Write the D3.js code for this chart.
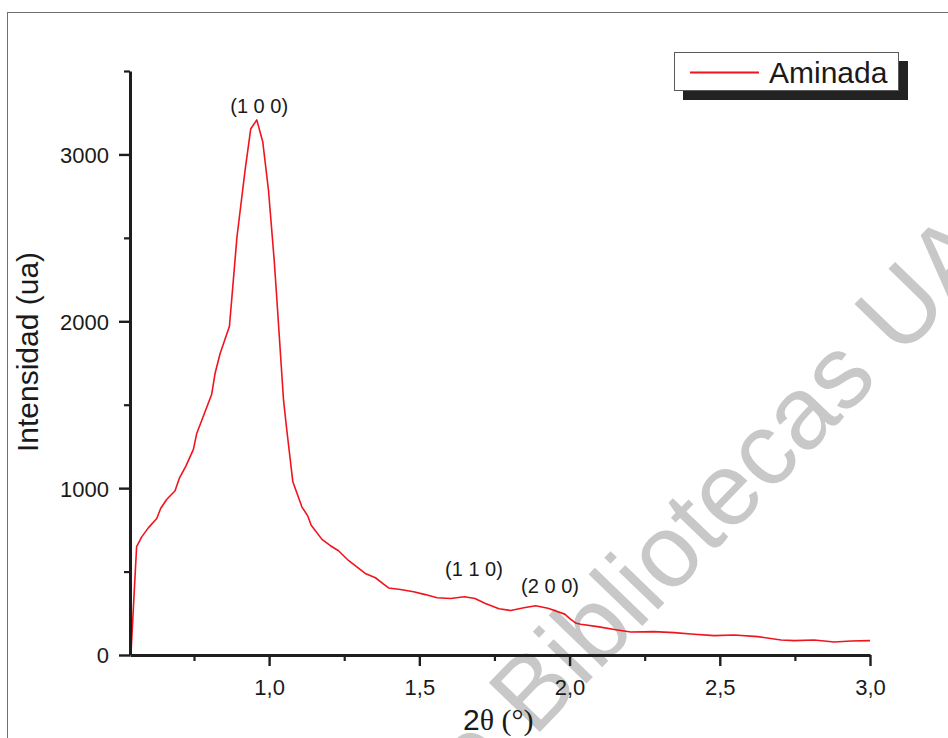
<!DOCTYPE html>
<html>
<head>
<meta charset="utf-8">
<script src="https://cdn.jsdelivr.net/npm/d3@7"></script>
<style>
  html, body { margin: 0; padding: 0; background: #fff; }
  svg { display: block; }
</style>
</head>
<body>
<svg id="chart" width="948" height="738"></svg>
<script>
// Diffractogram (low angle XRD) of the aminated sample
const twoTheta = [
  0.540, 0.559, 0.576, 0.598, 0.626, 0.639, 0.659, 0.687, 0.701, 0.723,
  0.748, 0.759, 0.776, 0.809, 0.820, 0.837, 0.868, 0.879, 0.893, 0.920,
  0.939, 0.959, 0.979, 0.998, 1.017, 1.026, 1.048, 1.059, 1.079, 1.109,
  1.129, 1.140, 1.176, 1.204, 1.231, 1.265, 1.320, 1.354, 1.381, 1.398,
  1.437, 1.481, 1.520, 1.559, 1.604, 1.650, 1.685, 1.720, 1.765, 1.804,
  1.848, 1.887, 1.928, 1.984, 2.003, 2.020, 2.037, 2.093, 2.159, 2.204,
  2.281, 2.348, 2.404, 2.481, 2.548, 2.626, 2.704, 2.748, 2.814, 2.881,
  2.937, 3.000
];
const intensity = [
  0, 649, 708, 762, 818, 878, 932, 984, 1058, 1132,
  1232, 1327, 1407, 1563, 1687, 1807, 1970, 2205, 2505, 2904,
  3154, 3207, 3074, 2784, 2365, 2126, 1527, 1347, 1038, 888,
  832, 778, 693, 655, 625, 565, 489, 463, 425, 402,
  393, 379, 362, 343, 339, 349, 339, 309, 277, 267,
  283, 295, 280, 245, 215, 192, 184, 170, 150, 138,
  140, 134, 126, 116, 120, 110, 90, 86, 90, 78,
  84, 86
];

const seriesName = "Aminada";
const xMajor = [1.0, 1.5, 2.0, 2.5, 3.0];
const xMinor = [0.75, 1.25, 1.75, 2.25, 2.75];
const yMajor = [0, 1000, 2000, 3000];
const yMinor = [500, 1500, 2500, 3500];

// Miller index annotations for the reflections
const peakLabels = ["(1 0 0)", "(1 1 0)", "(2 0 0)"];
const peakLabelX = [0.967, 1.682, 1.935];
const peakLabelY = [3251, 473, 371];

const svg = d3.select("#chart");

// page frame
svg.append("rect")
  .attr("x", 7.5).attr("y", 12.5)
  .attr("width", 1000).attr("height", 800)
  .attr("fill", "#fff").attr("stroke", "#6f6f6f").attr("stroke-width", 1);

// repository watermark
const wm = svg.append("g")
  .attr("transform", "translate(534,738) rotate(-46)")
  .attr("fill", "#c8c8c8")
  .style("font-family", "'Liberation Sans', Arial, sans-serif")
  .style("font-size", "103px");
wm.append("text").attr("x", -29).attr("text-anchor", "end").text("Dirección General de");
wm.append("text").attr("x", 0).attr("text-anchor", "start").text("Bibliotecas UAQ");

const x = d3.scaleLinear().domain([0.537, 3.0]).range([130, 870]);
const y = d3.scaleLinear().domain([0, 3500]).range([655, 71]);

const fmt = d => d3.format(".1f")(d).replace(".", ",");
const axisColor = "#1e1e1e";
const fontSans = "'Liberation Sans', Arial, Helvetica, sans-serif";

// minor ticks
svg.append("g").attr("transform", "translate(0,655)")
  .call(d3.axisBottom(x).tickValues(xMinor).tickSize(6).tickSizeOuter(0).tickFormat(""))
  .call(g => g.select(".domain").remove())
  .call(g => g.selectAll("line").attr("stroke", axisColor).attr("stroke-width", 2.2));
svg.append("g").attr("transform", "translate(130,0)")
  .call(d3.axisLeft(y).tickValues(yMinor).tickSize(6).tickSizeOuter(0).tickFormat(""))
  .call(g => g.select(".domain").remove())
  .call(g => g.selectAll("line").attr("stroke", axisColor).attr("stroke-width", 2.2));

// data line
const line = d3.line().x((d, i) => x(twoTheta[i])).y(d => y(d));
svg.append("path")
  .datum(intensity)
  .attr("fill", "none")
  .attr("stroke", "#f0141e")
  .attr("stroke-width", 1.6)
  .attr("stroke-linejoin", "round")
  .attr("d", line);

// major axes
const xAxis = svg.append("g").attr("transform", "translate(0,655)")
  .call(d3.axisBottom(x).tickValues(xMajor).tickSize(11).tickSizeOuter(0).tickFormat(fmt));
xAxis.select(".domain").attr("stroke", axisColor).attr("stroke-width", 3);
xAxis.selectAll("line").attr("stroke", axisColor).attr("stroke-width", 2.4);
xAxis.selectAll("text")
  .attr("y", 40).attr("dy", 0)
  .attr("fill", "#1a1a1a")
  .style("font-family", fontSans).style("font-size", "22px");

const yAxis = svg.append("g").attr("transform", "translate(130,0)")
  .call(d3.axisLeft(y).tickValues(yMajor).tickSize(11).tickSizeOuter(0).tickFormat(d3.format("d")));
yAxis.select(".domain").attr("stroke", axisColor).attr("stroke-width", 3);
yAxis.selectAll("line").attr("stroke", axisColor).attr("stroke-width", 2.4);
yAxis.selectAll("text")
  .attr("x", -21).attr("dy", "0.36em")
  .attr("fill", "#1a1a1a")
  .style("font-family", fontSans).style("font-size", "22px");

// peak annotations
svg.append("g").selectAll("text")
  .data(peakLabels)
  .join("text")
  .attr("x", (d, i) => x(peakLabelX[i]))
  .attr("y", (d, i) => y(peakLabelY[i]))
  .attr("text-anchor", "middle")
  .attr("fill", "#1a1a1a")
  .style("font-family", fontSans).style("font-size", "20px")
  .text(d => d);

// axis titles
svg.append("text")
  .attr("transform", "translate(38,352) rotate(-90)")
  .attr("text-anchor", "middle")
  .attr("fill", "#1a1a1a")
  .style("font-family", fontSans).style("font-size", "30px")
  .text("Intensidad (ua)");

const xt = svg.append("text")
  .attr("x", 463).attr("y", 730)
  .attr("fill", "#1a1a1a")
  .style("font-size", "30px");
xt.append("tspan").style("font-family", fontSans).text("2");
xt.append("tspan").style("font-family", "'Liberation Serif', 'Times New Roman', serif").text("θ (°)");

// legend with drop shadow
const lg = svg.append("g");
lg.append("rect").attr("x", 683).attr("y", 61).attr("width", 225).attr("height", 39).attr("fill", "#222");
lg.append("rect").attr("x", 674.5).attr("y", 52.5).attr("width", 224).attr("height", 38)
  .attr("fill", "#fff").attr("stroke", "#5a5a5a").attr("stroke-width", 1);
lg.append("line").attr("x1", 690).attr("x2", 759).attr("y1", 72.5).attr("y2", 72.5)
  .attr("stroke", "#f0141e").attr("stroke-width", 1.8);
lg.append("text").attr("x", 769).attr("y", 83)
  .attr("fill", "#1a1a1a")
  .style("font-family", fontSans).style("font-size", "30px")
  .text(seriesName);
</script>
</body>
</html>
